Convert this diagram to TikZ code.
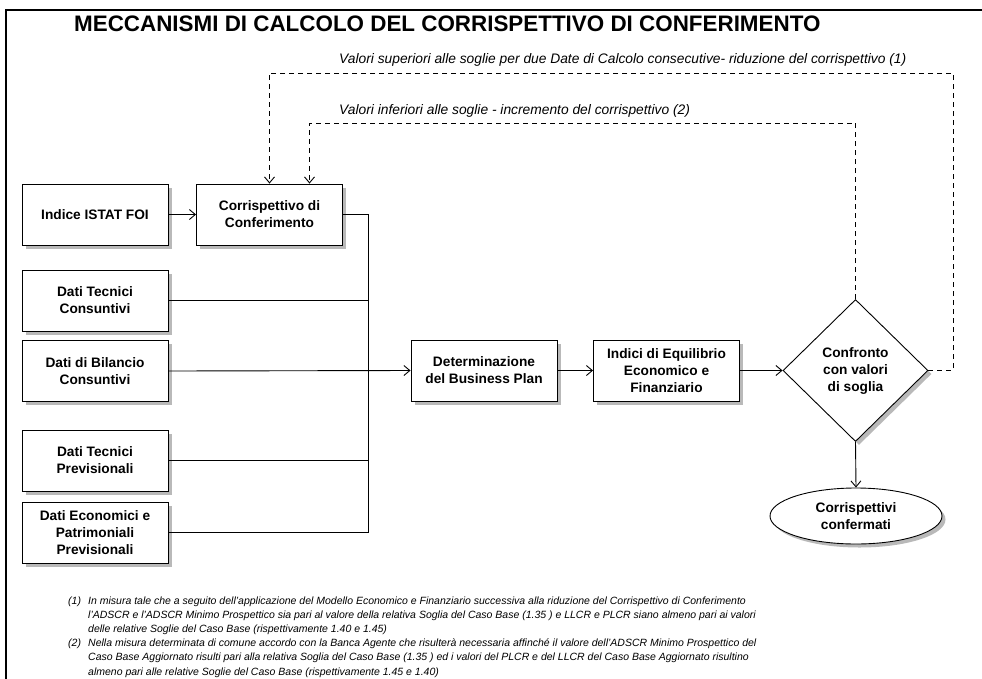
\documentclass[tikz,border=0pt]{standalone}
\usepackage{fontspec}
\setmainfont{Liberation Sans}
\usetikzlibrary{arrows.meta,shapes.geometric,shadows}
\newcommand\ndfont{\bfseries\fontsize{13.7}{17}\selectfont}
\newcommand\lblfont{\itshape\fontsize{13.8}{16}\selectfont}
\newcommand\fnfont{\itshape\fontsize{10.5}{14.2}\selectfont}
\begin{document}
\begin{tikzpicture}[x=1pt,y=-1pt,
  shade/.style={drop shadow={shadow xshift=3.5pt,shadow yshift=-3.5pt,fill=black!50,opacity=0.55}},
  box/.style={draw=black,line width=0.9pt,fill=white,minimum width=146pt,minimum height=61pt,
    inner sep=2pt,align=center,font=\ndfont,shade},
  decision/.style={diamond,draw=black,line width=0.9pt,fill=white,minimum width=145pt,minimum height=142pt,
    inner sep=0pt,align=center,font=\ndfont,shade},
  terminal/.style={ellipse,draw=black,line width=0.9pt,fill=white,minimum width=172pt,minimum height=56pt,
    inner sep=0pt,align=center,font=\ndfont,shade},
  link/.style={draw=black,line width=0.9pt},
  arr/.style={link,-{Straight Barb[length=6pt,width=10pt,line width=0.9pt]}},
  dsh/.style={dash pattern=on 5pt off 4pt},
  lbl/.style={anchor=base west,inner sep=0pt,font=\lblfont},
  fn/.style={anchor=base west,inner sep=0pt,font=\fnfont}
]
\useasboundingbox (0,0) rectangle (982,678);
% frame
\draw[line width=2pt] (6,679) -- (6,10) -- (983,10);
% title
\node[anchor=base west,inner sep=0pt,font=\bfseries\fontsize{22.4}{26}\selectfont] (title) at (74,31)
  {MECCANISMI DI CALCOLO DEL CORRISPETTIVO DI CONFERIMENTO};
% nodes
\node[box] (ist) at (95,214.5) {Indice ISTAT FOI};
\node[box] (corr) at (269.5,214.5) {Corrispettivo di\\Conferimento};
\node[box] (tc) at (95,300.5) {Dati Tecnici\\Consuntivi};
\node[box] (bil) at (95,371) {Dati di Bilancio\\Consuntivi};
\node[box] (tp) at (95,460.5) {Dati Tecnici\\Previsionali};
\node[box] (eco) at (95,532.5) {Dati Economici e\\Patrimoniali\\Previsionali};
\node[box] (det) at (484,370.5) {Determinazione\\del Business Plan};
\node[box] (ind) at (666.5,370.5) {Indici di Equilibrio\\Economico e\\Finanziario};
\node[decision] (conf) at (855.5,370.5) {Confronto\\con valori\\di soglia};
\node[terminal] (ell) at (856,516) {Corrispettivi\\confermati};
% bus
\coordinate (bus) at (368,214.5);
\draw[link] (corr.east) -- (bus) -- (bus |- eco.east) -- (eco.east);
\draw[link] (tc.east) -- (tc.east -| bus);
\draw[link] (tp.east) -- (tp.east -| bus);
% main flow
\draw[arr] (ist.east) -- (corr.west);
\draw[arr] (bil.east) -- (det.west);
\draw[arr] (det.east) -- (ind.west);
\draw[arr] (ind.east) -- (conf.west);
\draw[arr] (conf.south) -- (ell.north);
% feedback loops
\coordinate (outer) at (953,73);
\draw[arr,dsh] (conf.east) -| (outer) -| (corr.north);
\coordinate (inner) at (855.5,123);
\draw[arr,dsh] (conf.north) -- (inner) -| ([xshift=40pt]corr.north);
\node[lbl] (lsup) at (339,63) {Valori superiori alle soglie per due Date di Calcolo consecutive- riduzione del corrispettivo (1)};
\node[lbl] (linf) at (339,114) {Valori inferiori alle soglie - incremento del corrispettivo (2)};
% footnotes
\node[fn] (n1) at (68,604) {(1)};
\node[fn] (f1a) at (88,604) {In misura tale che a seguito dell'applicazione del Modello Economico e Finanziario successiva alla riduzione del Corrispettivo di Conferimento};
\node[fn] (f1b) at (88,618.2) {l'ADSCR e l'ADSCR Minimo Prospettico sia pari al valore della relativa Soglia del Caso Base (1.35 ) e LLCR e PLCR siano almeno pari ai valori};
\node[fn] (f1c) at (88,632.4) {delle relative Soglie del Caso Base (rispettivamente 1.40 e 1.45)};
\node[fn] (n2) at (68,646.6) {(2)};
\node[fn] (f2a) at (88,646.6) {Nella misura determinata di comune accordo con la Banca Agente che risulterà necessaria affinché il valore dell'ADSCR Minimo Prospettico del};
\node[fn] (f2b) at (88,660.8) {Caso Base Aggiornato risulti pari alla relativa Soglia del Caso Base (1.35 ) ed i valori del PLCR e del LLCR del Caso Base Aggiornato risultino};
\node[fn] (f2c) at (88,675) {almeno pari alle relative Soglie del Caso Base (rispettivamente 1.45 e 1.40)};
\end{tikzpicture}
\end{document}
